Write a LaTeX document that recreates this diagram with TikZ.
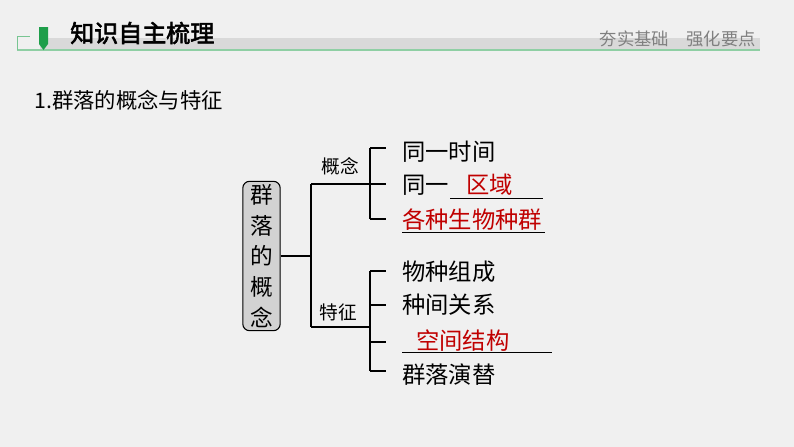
\documentclass[tikz,border=0pt]{standalone}
\usepackage{fontspec}
\newfontfamily\cjk[AutoFakeBold=2.5]{Noto Sans CJK SC}
\definecolor{bgc}{HTML}{F0F0F0}
\definecolor{redt}{HTML}{C00000}
\definecolor{greenm}{HTML}{1E9E4A}
\begin{document}
\begin{tikzpicture}
        [x=0.75pt,y=-0.75pt,
        item/.style={anchor=west, inner sep=0pt, font=\cjk\fontsize{17.5}{19}\selectfont},
        ans/.style={item, text=redt},
        tag/.style={inner sep=0pt, font=\cjk\fontsize{14}{16}\selectfont},
        tree/.style={thick},
        blank/.style={thin}]
        \useasboundingbox[fill=bgc] (0,0) rectangle (794,447);
        
        % Header bar
        \fill[gray!30] (40,38) rectangle (760,50);
        \draw[greenm!50, thick] (17,50) -- (760,50);
        \draw[greenm!60] (17,50) -- (17,36) -- (30,36);
        \fill[greenm] (39,27) rectangle (48,44) -- (43.5,50) -- (39,44);
        \node[inner sep=0pt, anchor=west, font=\cjk\bfseries\fontsize{18}{20}\selectfont] (head) at (70,33) {知识自主梳理};
        \node[inner sep=0pt, anchor=east, text=gray, font=\cjk\fontsize{13}{15}\selectfont] (motto) at (756,39) {夯实基础\hspace{1em}强化要点};
        \node[inner sep=0pt, anchor=west, font=\cjk\fontsize{16}{18}\selectfont] (title) at (34,100) {1.群落的概念与特征};
        
        % Root box
        \node[draw, thick, rounded corners=5pt, fill=gray!35, minimum width=28pt, minimum height=112pt,
              align=center, inner sep=1pt, font=\cjk\fontsize{17}{23}\selectfont] (root) at (261.5,256) {群\\落\\的\\概\\念};
        
        % Branch points
        \coordinate (fork) at (311,256);
        \coordinate (cpt) at (311,184);
        \coordinate (ftr) at (311,327);
        \coordinate (cptj) at (370,184);
        \coordinate (ftrj) at (370,327);
        \node[tag] (cptl) at (340,166) {概念};
        \node[tag] (ftrl) at (338,312) {特征};
        
        % Leaves
        \node[item] (c1) at (402,152) {同一时间};
        \node[item] (c2) at (402,185) {同一};
        \node[ans] (c2a) at (466,185) {区域};
        \node[ans] (c3) at (402,220) {各种生物种群};
        \node[item] (f1) at (402,272) {物种组成};
        \node[item] (f2) at (402,305) {种间关系};
        \node[ans] (f3) at (416,341) {空间结构};
        \node[item] (f4) at (402,375) {群落演替};
        
        % Tree lines
        \draw[tree] (root.east |- fork) -- (fork);
        \draw[tree] (cpt) -- (ftr);
        \draw[tree] (cpt) -- (cptj);
        \draw[tree] (ftr) -- (ftrj);
        \draw[tree] (370,148) -- (370,219);
        \draw[tree] (370,271) -- (370,371);
        \foreach \y in {148,184,219,271,305,342,371}
            \draw[tree] (370,\y) -- (386,\y);
        
        % Blanks
        \draw[blank] (450,198) -- (543,198);
        \draw[blank] (402,232) -- (545,232);
        \draw[blank] (402,352) -- (552,352);
        
    \end{tikzpicture}
\end{document}
